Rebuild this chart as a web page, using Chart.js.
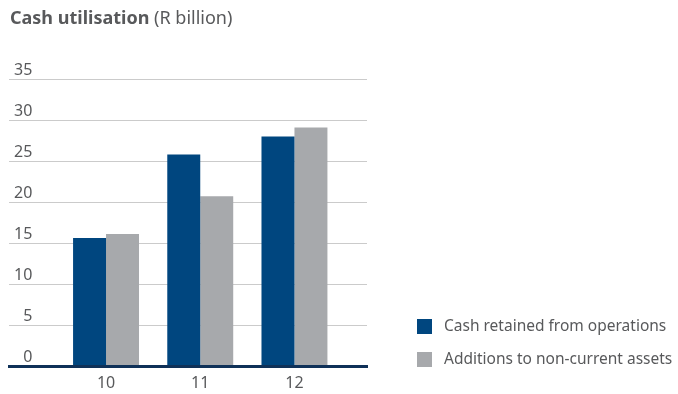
<!DOCTYPE html>
<html>
<head>
<meta charset="utf-8">
<script src="https://cdn.jsdelivr.net/npm/chart.js@4/dist/chart.umd.min.js"></script>
<style>
  html, body { margin: 0; padding: 0; background: #fff; }
  #wrap { position: relative; width: 678px; height: 394px; }
  #title {
    position: absolute; left: 10px; top: 8px;
    font-family: "Noto Sans", sans-serif; font-size: 18px; line-height: 18px;
    color: #58595b; white-space: nowrap;
  }
  #title b { font-weight: 700; }
</style>
</head>
<body>
<div id="wrap">
  <div id="title"><b>Cash utilisation</b> (R billion)</div>
  <canvas id="cashChart" width="678" height="394"></canvas>
</div>
<script>
// Financial years (x axis) and the two series, R billion
const years = [10, 11, 12];
const cashRetained = [15.6, 25.8, 28.0];
const nonCurrentAdditions = [16.1, 20.7, 29.1];
const yTicks = [0, 5, 10, 15, 20, 25, 30, 35];

const TEXT = "#58595b";
const FONT = '"Noto Sans", sans-serif';

// legend sits in the empty space to the right of the plot, bottom aligned
const sideLegend = {
  id: "sideLegend",
  afterDraw(chart) {
    const ctx = chart.ctx;
    ctx.save();
    ctx.font = "15.5px " + FONT;
    ctx.textBaseline = "middle";
    chart.data.datasets.forEach((ds, i) => {
      const y = 326.5 + i * 33;
      ctx.fillStyle = ds.backgroundColor;
      ctx.fillRect(417, y - 7.5, 15, 15);
      ctx.fillStyle = TEXT;
      ctx.fillText(ds.label, 444, y);
    });
    ctx.restore();
  },
};

const ctx = document.getElementById("cashChart").getContext("2d");
const cashChart = new Chart(ctx, {
  type: "bar",
  data: {
    labels: years,
    datasets: [
      {
        label: "Cash retained from operations",
        data: cashRetained,
        backgroundColor: "#00467f",
        categoryPercentage: 0.7,
        barPercentage: 1.0,
      },
      {
        label: "Additions to non-current assets",
        data: nonCurrentAdditions,
        backgroundColor: "#a7a9ac",
        categoryPercentage: 0.7,
        barPercentage: 1.0,
      },
    ],
  },
  options: {
    responsive: false,
    animation: false,
    devicePixelRatio: 1,
    layout: { padding: { left: 9, right: 311, top: 79, bottom: 0 } },
    plugins: {
      legend: { display: false },
      tooltip: { enabled: false },
    },
    scales: {
      x: {
        type: "linear",
        offset: false,
        min: 8.97,
        max: 12.77,
        grid: { display: false, drawTicks: false },
        border: { display: true, color: "#0f3158", width: 3, z: 1 },
        afterBuildTicks: (scale) => {
          scale.ticks = years.map((v) => ({ value: v }));
        },
        afterFit: (scale) => {
          scale.height = 28;
        },
        ticks: {
          padding: 8,
          color: TEXT,
          font: { family: FONT, size: 16 },
          callback: (v) => String(v),
        },
      },
      y: {
        min: 0,
        max: 35,
        afterBuildTicks: (scale) => {
          scale.ticks = yTicks.map((v) => ({ value: v }));
        },
        afterFit: (scale) => {
          scale.width = 0;
        },
        grid: { color: "#cbcbcb", lineWidth: 1, drawTicks: false },
        border: { display: false },
        ticks: {
          mirror: true,
          crossAlign: "far",
          padding: 5,
          labelOffset: -9,
          color: TEXT,
          font: { family: FONT, size: 16 },
        },
      },
    },
  },
  plugins: [sideLegend],
});
</script>
</body>
</html>
